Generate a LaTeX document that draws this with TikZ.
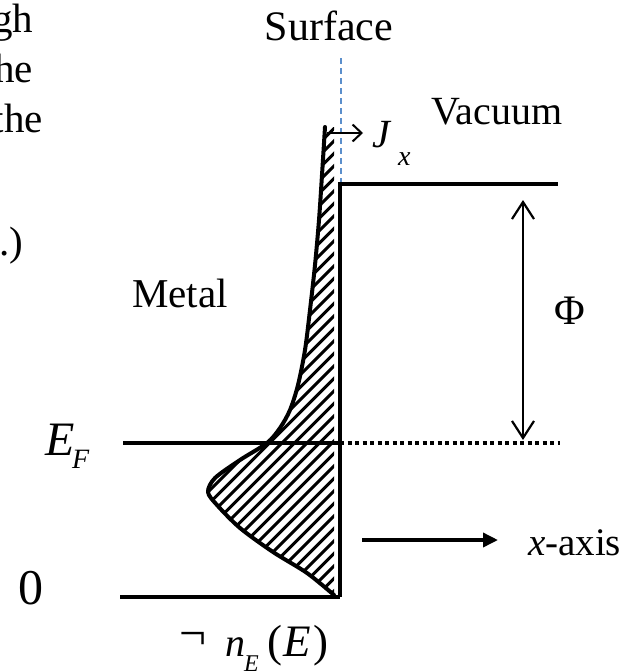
\documentclass[tikz,border=0pt]{standalone}
\usepackage{fontspec}
\setmainfont{Liberation Serif}
\usetikzlibrary{arrows.meta}
\newcommand\myfs[1]{\fontsize{#1}{#1}\selectfont}
\definecolor{surfblue}{HTML}{5B8FCC}
\begin{document}
\begin{tikzpicture}[x=1pt,y=-1pt,
  txt/.style={inner sep=0pt,outer sep=0pt},
  thickln/.style={line width=4pt},
  hatchln/.style={line width=3pt}]
\useasboundingbox (0,0) rectangle (644,672);

% cut-off text at left
\node[txt,anchor=base east,font=\myfs{41}] (t1) at (33,32) {gh};
\node[txt,anchor=base east,font=\myfs{41}] (t2) at (33,82) {he};
\node[txt,anchor=base east,font=\myfs{41}] (t3) at (43,132) {the};
\node[txt,anchor=base east,font=\myfs{41}] (t4) at (23,255) {.)};

% hatched density
\begin{scope}
\clip plot[smooth] coordinates {(325,127) (322,175) (319,220) (315,265) (310,310) (305,350) (298,385) (290,410) (280,428) (267,443) (240,460) (215,478) (208,492) (217,505) (240,528) (273,552) (307,573) (334,595)} -- (334,127) -- cycle;
\foreach \a in {-200,-187.5,...,290} \draw[hatchln] (\a,650) -- ++(600,-600);
\end{scope}
\draw[thickln,line join=round,line cap=round] plot[smooth] coordinates {(325,127) (322,175) (319,220) (315,265) (310,310) (305,350) (298,385) (290,410) (280,428) (267,443) (240,460) (215,478) (208,492) (217,505) (240,528) (273,552) (307,573) (334,595)};

% surface dashed line
\coordinate (sTop) at (341,58);
\coordinate (sBot) at (341,182);
\draw[surfblue,line width=1.6pt,dash pattern=on 6pt off 4pt] (sTop) -- (sBot);

% potential step
\coordinate (wBot) at (340,597);
\coordinate (wTop) at (340,184);
\coordinate (vacR) at (558,184);
\draw[thickln,line join=miter] (wBot) -- (wTop) -- (vacR);
\coordinate (zL) at (120,597);
\draw[thickln] (zL) -- (wBot);
\coordinate (fL) at (123,443);
\coordinate (fM) at (340,443);
\coordinate (fR) at (560,443);
\draw[thickln] (fL) -- (fM);
\draw[thickln,dash pattern=on 4pt off 3.5pt] (fM) -- (fR);

% arrows
\coordinate (phiTop) at (523,200);
\coordinate (phiBot) at (523,440);
\draw[line width=2.2pt,{Straight Barb[length=17pt,width=22pt]}-{Straight Barb[length=17pt,width=22pt]}] (phiBot) -- (phiTop);
\coordinate (jS) at (327,133);
\coordinate (jE) at (363,133);
\draw[line width=2pt,-{Straight Barb[length=9pt,width=17pt]}] (jS) -- (jE);
\coordinate (xS) at (362,540);
\coordinate (xE) at (498,540);
\draw[line width=3.5pt,-{Triangle[length=15pt,width=14pt]}] (xS) -- (xE);

% labels
\node[txt,anchor=base,font=\myfs{42}] (surf) at (329,40) {Surface};
\node[txt,anchor=base,font=\myfs{40}] (vac) at (497,124) {Vacuum};
\node[txt,anchor=base,font=\myfs{41}] (metal) at (180,307) {Metal};
\node[txt,font=\myfs{42}] (phi) at (570,311) {Φ};
\node[txt,anchor=base west,font=\myfs{39}] (xax) at (528,555) {\textit{x}-axis};
\node[txt,anchor=base west,font=\myfs{48}\itshape] (ef) at (45,455) {E};
\node[txt,anchor=base west,font=\myfs{28}\itshape] (efs) at (72,468) {F};
\node[txt,anchor=base,font=\myfs{50}] (zero) at (31.5,604) {0};
\node[txt,anchor=base west,font=\myfs{40}\itshape] (jx) at (372,147) {J};
\node[txt,anchor=base west,font=\myfs{28}\itshape] (jxs) at (398,165) {x};
\node[txt,font=\myfs{48}] (neg) at (193,641) {¬};
\node[txt,anchor=base west,font=\myfs{40}\itshape] (nE) at (225,656) {n};
\node[txt,anchor=base west,font=\myfs{24}\itshape] (nEs) at (244,671) {E};
\node[txt,anchor=base,font=\myfs{45}] (pE) at (298,656) {(\kern1pt\textit{E}\kern3pt)};
\end{tikzpicture}
\end{document}
